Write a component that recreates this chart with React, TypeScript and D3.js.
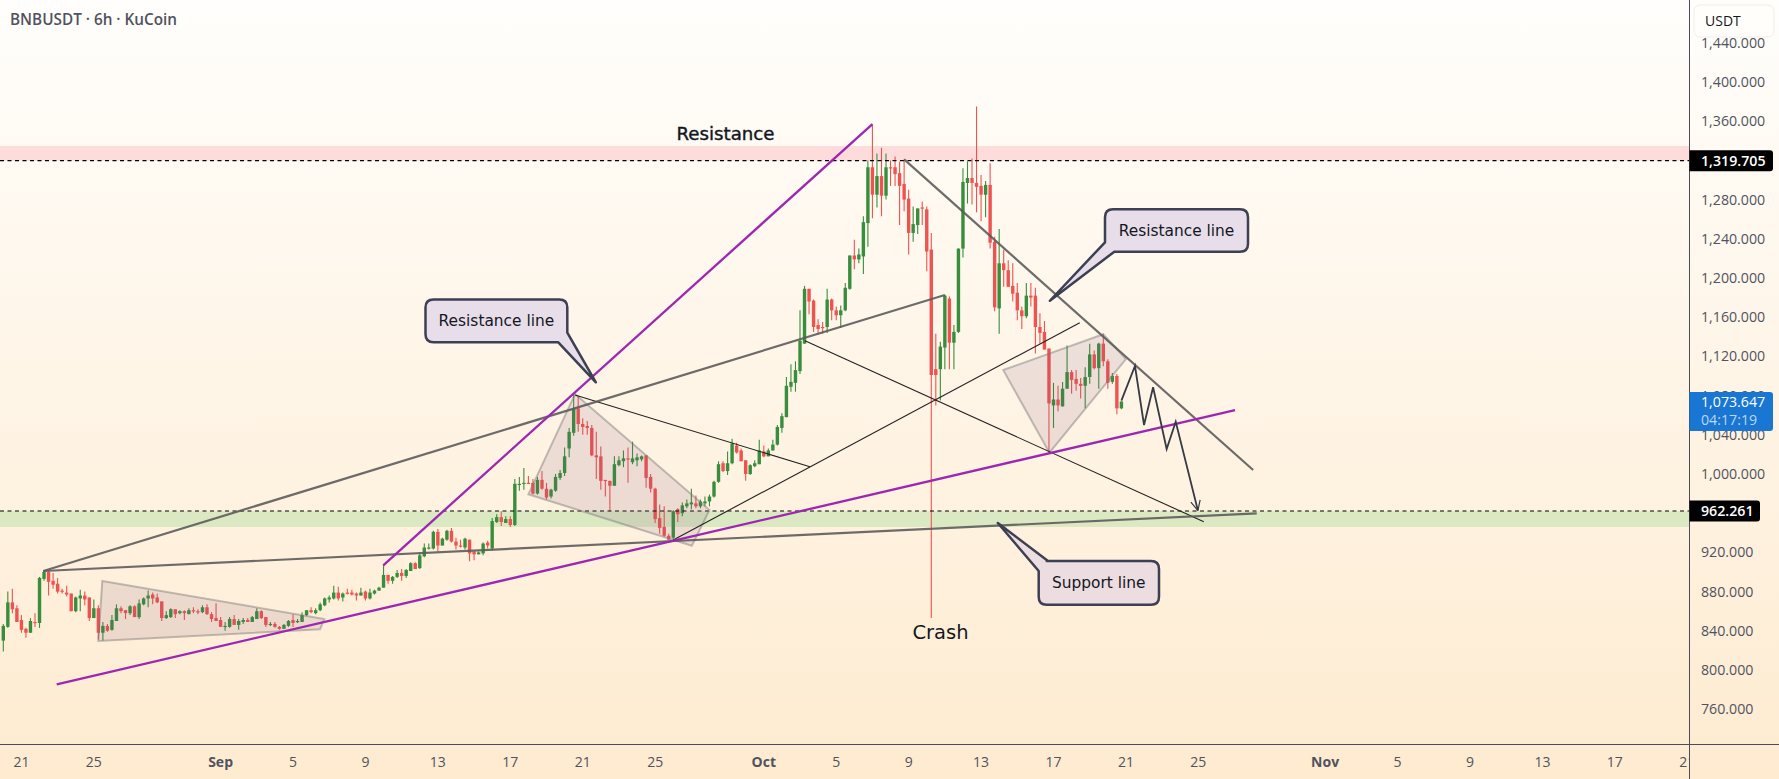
import React from "react";
import * as d3 from "d3";

type Row = [number, number, number, number];
type Pt = [number, number];

// [open, high, low, close], 6h bars from 20 Aug
const candlesAug: Row[] = [
[830,847,819,845],[844,880,843,869],[869,883,858,862],[863,866,849,849],[851,856,838,841],[842,843,833,838],[838,853,838,850],[849,858,844,848],
[848,895,843,894],[893,901,891,900],[900,901,876,890],[891,899,883,887],[888,894,878,880],[881,883,878,880],[879,886,875,877],[878,878,860,860],
[860,875,859,874],[873,882,860,876],[876,880,866,872],[874,874,850,853],[853,872,853,863],[863,866,831,838],[838,849,830,845],[845,847,839,840],
[841,856,840,851],[850,867,850,863],[863,865,858,860],[861,861,852,858],[858,866,856,865],[865,866,854,854],[854,872,852,868],[867,874,866,873],
[873,881,864,876],[877,879,867,873],[874,878,868,869],[870,870,850,853],[853,860,852,856],[854,863,853,862],[862,862,853,857],[858,861,857,860],
[860,861,851,858],[857,863,857,861],[861,864,858,860],[860,862,857,859],[859,866,858,864],[864,867,856,857],[857,859,849,852],[853,868,850,850],
];
const candlesSep: Row[] = [
[851,854,844,844],[844,849,840,845],[844,854,843,852],[852,856,846,846],[846,852,841,850],[849,853,847,851],[851,853,849,849],[849,855,849,854],
[852,863,852,860],[860,861,852,853],[854,854,844,846],[846,849,845,847],[847,849,843,844],[844,845,841,842],[842,847,842,846],[845,851,844,850],
[851,857,844,848],[849,852,848,850],[849,859,849,856],[856,861,855,861],[861,864,858,859],[858,863,857,861],[861,869,860,867],[866,874,865,873],
[872,876,869,874],[873,886,872,879],[879,885,871,873],[874,879,870,878],[879,883,877,878],[879,882,876,877],[878,879,871,876],[876,884,876,879],
[880,881,871,873],[873,883,872,879],[878,882,877,881],[881,885,881,884],[884,907,884,897],[897,897,888,891],[891,896,888,895],[895,902,894,899],
[899,903,891,896],[896,903,894,902],[901,910,901,909],[909,910,903,903],[904,920,903,917],[916,929,915,925],[924,929,923,925],[924,942,923,941],
[941,944,921,927],[927,935,927,934],[933,943,932,942],[942,945,930,931],[931,935,923,927],[927,933,925,926],[925,935,923,934],[933,933,911,919],
[921,921,912,918],[918,921,918,920],[919,930,917,929],[930,932,924,927],[924,955,922,952],[951,959,950,956],[956,962,947,951],[950,957,950,954],
[954,957,946,948],[948,995,947,990],[989,997,983,990],[990,1006,984,991],[991,998,990,990],[991,995,979,980],[980,997,979,994],[994,1003,984,985],
[985,991,974,976],[977,985,975,984],[983,1000,982,997],[996,1004,994,1001],[1001,1027,998,1018],[1026,1047,1017,1043],[1042,1081,1039,1067],[1067,1080,1043,1051],
[1051,1057,1040,1048],[1049,1054,1040,1047],[1047,1050,1018,1019],[1019,1043,995,1017],[1018,1028,984,993],[994,994,977,993],[993,993,962,988],[988,1018,988,1010],
[1009,1018,1008,1014],[1013,1024,1007,1016],[1016,1027,991,1015],[1012,1033,1010,1016],[1014,1021,1008,1017],[1015,1019,1013,1018],[1019,1019,986,996],[997,1000,981,985],
[985,986,950,954],[955,969,939,945],[946,967,936,937],[937,939,933,933],[935,963,933,962],[964,965,951,959],[960,971,957,968],[967,974,965,970],
[969,985,964,971],[970,978,965,967],[967,974,965,972],[970,977,967,972],[972,979,967,977],[977,993,976,992],[992,1013,991,1010],[1011,1013,1002,1003],
[1003,1023,999,1011],[1011,1036,1010,1031],[1029,1032,1021,1022],[1024,1026,1013,1013],[1014,1014,993,1000],[1000,1010,999,1009],[1008,1014,1007,1011],[1010,1035,1010,1024],
];
const candlesOct: Row[] = [
[1023,1029,1017,1018],[1018,1026,1018,1024],[1024,1035,1024,1030],[1030,1050,1029,1048],[1047,1062,1042,1059],[1058,1099,1058,1090],[1089,1112,1084,1094],[1093,1115,1084,1106],
[1105,1167,1102,1136],[1133,1192,1133,1189],[1189,1189,1163,1176],[1177,1178,1145,1150],[1152,1158,1142,1148],[1150,1155,1143,1149],[1150,1189,1144,1178],[1178,1179,1157,1167],
[1167,1171,1157,1162],[1162,1172,1149,1167],[1167,1195,1166,1190],[1189,1223,1188,1223],[1223,1239,1209,1219],[1219,1230,1215,1224],[1222,1263,1204,1257],[1256,1320,1232,1313],
[1313,1357,1261,1285],[1285,1327,1272,1304],[1304,1333,1263,1284],[1284,1327,1280,1313],[1313,1320,1294,1312],[1313,1324,1294,1306],[1307,1319,1254,1294],[1296,1321,1268,1280],
[1281,1290,1224,1246],[1246,1273,1237,1255],[1254,1271,1245,1271],[1272,1278,1254,1271],[1270,1273,1207,1227],[1229,1246,853,1101],[1107,1143,1070,1101],[1107,1135,1075,1130],
[1129,1183,1107,1182],[1179,1181,1107,1134],[1134,1152,1107,1145],[1145,1230,1144,1230],[1230,1312,1221,1298],[1297,1319,1276,1302],[1302,1322,1275,1297],[1297,1375,1267,1293],
[1294,1305,1258,1285],[1285,1299,1262,1295],[1295,1317,1230,1236],[1237,1242,1166,1170],[1169,1250,1143,1215],[1215,1229,1191,1208],[1208,1218,1191,1191],[1192,1215,1176,1184],
[1185,1195,1157,1167],[1167,1171,1148,1161],[1161,1195,1159,1182],[1182,1195,1171,1180],[1182,1190,1123,1150],[1150,1164,1133,1144],[1145,1156,1127,1127],[1128,1128,1022,1072],
[1070,1093,1047,1076],[1076,1090,1064,1070],[1069,1094,1069,1087],[1087,1131,1087,1104],[1104,1106,1082,1096],[1097,1106,1085,1092],[1092,1098,1077,1090],[1090,1109,1067,1099],
[1099,1133,1092,1122],[1122,1126,1107,1108],[1108,1134,1087,1133],[1133,1143,1110,1115],[1115,1117,1087,1093],[1094,1103,1092,1100],[1100,1102,1061,1067],[1067,1074,1066,1074],
];

const priceTicks = [760,800,840,880,920,1000,1040,1080,1120,1160,1200,1240,1280,1360,1400,1440];
// [label, days after 20 Aug, month start?]
const timeTicks: [string, number, boolean][] = [
  ["21",1,false],["25",5,false],["Sep",12,true],["5",16,false],["9",20,false],["13",24,false],["17",28,false],["21",32,false],["25",36,false],
  ["Oct",42,true],["5",46,false],["9",50,false],["13",54,false],["17",58,false],["21",62,false],["25",66,false],
  ["Nov",73,true],["5",77,false],["9",81,false],["13",85,false],["17",89,false],["21",93,false],
];

const resistanceLevel = 1319.705;
const supportLevel = 962.261;
const lastPrice = 1073.647;
const resistanceZone: Pt = [1334.7, 1319.7];
const supportZone: Pt = [962, 946];

// Drawings as [bar index, price]
const greyRising: Pt[] = [[8.84,901],[208,1182.7]];
const greySupport: Pt[] = [[8.84,901],[276.9,959.9]];
const greyFalling: Pt[] = [[199,1321.1],[276.1,1004.1]];
const purpleSteep: Pt[] = [[83.94,906.8],[192,1357.1]];
const purpleBase: Pt[] = [[11.8,785.4],[272.1,1065.3]];
const thinA: Pt[] = [[126.3,1080.6],[178.2,1007.4]];
const thinB: Pt[] = [[148,932.7],[237.8,1154.4]];
const thinC: Pt[] = [[177.1,1136],[265.2,951.3]];
const triangleOne: Pt[] = [[21.87,890.8],[70.9,852],[69.96,841.5],[20.99,829.6]];
const triangleTwo: Pt[] = [[126.3,1081.6],[156,963.3],[152.1,926.8],[116,979.3]];
const triangleThree: Pt[] = [[220.9,1106.1],[243,1142.6],[248,1117.3],[231.1,1021.7]];
const forecast: Pt[] = [[247,1074.8],[250,1110.2],[252,1050],[254,1088.5],[257,1025.5],[259,1053.4],[263.9,962.7]];
const tipLeft: Pt = [130.9,1093.6];
const tipRight: Pt = [231.2,1176.8];
const tipSupport: Pt = [219.7,950];

const W = 1779, H = 779, AX = 1689.5, AY = 744;
const x = d3.scaleLinear().domain([0, 247]).range([3.3, 1121.4]);
const y = d3.scaleLinear().domain([1400, 760]).range([82, 709.2]);
const candles = [...candlesAug, ...candlesSep, ...candlesOct];
const line = d3.line<Pt>().x(d => x(d[0])).y(d => y(d[1]));
const poly = (p: Pt[]) => line(p) + "Z";

const UP = "#388e3c", DOWN = "#ef5350", TXT = "#50535e", AXC = "#4a4c5c";
const FONT = "'Open Sans', sans-serif";

function rr(l: number, t: number, r: number, b: number, k: number, notch: string) {
  return `M${l + k},${t}H${r - k}Q${r},${t} ${r},${t + k}` + notch;
}

function Callout({ box, label, fill, path, tx }: { box: number[]; label: string; fill: string; path: string; tx: number }) {
  return (
    <g>
      <path d={path} fill={fill} stroke="#3d3f52" strokeWidth={2.5} strokeLinejoin="round" />
      <text x={tx} y={(box[1] + box[3]) / 2 + 5.5} textAnchor="middle" fontFamily="'DejaVu Sans', sans-serif" fontSize={15.4} fill="#131722">{label}</text>
    </g>
  );
}

export default function App() {
  const k = 8;
  // left callout
  const a = [425.5, 299.5, 567.3, 342.3];
  const aTip = [x(tipLeft[0]), y(tipLeft[1])];
  const aPath = rr(a[0], a[1], a[2], a[3], k,
    `V332.7L${aTip[0]},${aTip[1]}L558.3,${a[3]}H${a[0] + k}Q${a[0]},${a[3]} ${a[0]},${a[3] - k}V${a[1] + k}Q${a[0]},${a[1]} ${a[0] + k},${a[1]}Z`);
  // right callout
  const b = [1105, 209.3, 1248, 251.7];
  const bTip = [x(tipRight[0]), y(tipRight[1])];
  const bPath = rr(b[0], b[1], b[2], b[3], k,
    `V${b[3] - k}Q${b[2]},${b[3]} ${b[2] - k},${b[3]}H1114.3L${bTip[0]},${bTip[1]}L${b[0]},242.3V${b[1] + k}Q${b[0]},${b[1]} ${b[0] + k},${b[1]}Z`);
  // support callout
  const c = [1038.7, 561, 1159, 604.7];
  const cTip = [x(tipSupport[0]), y(tipSupport[1])];
  const cPath = rr(c[0], c[1], c[2], c[3], k,
    `V${c[3] - k}Q${c[2]},${c[3]} ${c[2] - k},${c[3]}H${c[0] + k}Q${c[0]},${c[3]} ${c[0]},${c[3] - k}V571L${cTip[0]},${cTip[1]}L1048,${c[1]}Z`);

  const last = forecast[forecast.length - 1], prev = forecast[forecast.length - 2];
  const ex = x(last[0]), ey = y(last[1]);
  const ang = Math.atan2(ey - y(prev[1]), ex - x(prev[0]));
  const head = [ang - 0.45, ang + 0.45].map(t => `M${ex},${ey}L${ex - 11 * Math.cos(t)},${ey - 11 * Math.sin(t)}`).join("");

  return (
    <svg width={W} height={H} viewBox={`0 0 ${W} ${H}`} style={{ position: "absolute", left: 0, top: 0, display: "block" }}>
      <defs>
        <linearGradient id="bg" x1="0" y1="0" x2="0" y2="1">
          <stop offset="0" stopColor="#fffefc" />
          <stop offset="1" stopColor="#feebd0" />
        </linearGradient>
        <clipPath id="timeClip"><rect x={0} y={AY} width={AX} height={H - AY} /></clipPath>
      </defs>
      <rect width={W} height={H} fill="url(#bg)" />

      <rect x={0} width={AX} y={y(resistanceZone[0])} height={y(resistanceZone[1]) - y(resistanceZone[0])} fill="#ffdcdc" />
      <rect x={0} width={AX} y={y(supportZone[0])} height={y(supportZone[1]) - y(supportZone[0])} fill="#dae9c2" />

      {candles.map((d, i) => {
        const [o, h, l, c2] = d;
        const col = c2 >= o ? UP : DOWN;
        const cx = x(i);
        const top = y(Math.max(o, c2));
        const bot = y(Math.min(o, c2));
        return (
          <g key={i}>
            <line x1={cx} x2={cx} y1={y(h)} y2={y(l)} stroke={col} strokeWidth={1.1} />
            <rect x={cx - 1.7} width={3.4} y={top} height={Math.max(1.2, bot - top)} fill={col} />
          </g>
        );
      })}

      {[resistanceLevel, supportLevel].map(v => (
        <line key={v} x1={0} x2={AX} y1={y(v)} y2={y(v)} stroke="#000" strokeWidth={1.2} strokeDasharray="4 3.5" />
      ))}

      {[triangleOne, triangleTwo, triangleThree].map((t, i) => (
        <path key={i} d={poly(t)} fill="rgba(125,85,125,0.14)" stroke="rgba(120,120,120,0.45)" strokeWidth={2} />
      ))}

      {[thinA, thinB, thinC].map((p, i) => <path key={i} d={line(p)!} fill="none" stroke="#222" strokeWidth={1.1} />)}
      {[greyRising, greySupport, greyFalling].map((p, i) => <path key={i} d={line(p)!} fill="none" stroke="#5c5c5c" strokeOpacity={0.9} strokeWidth={2.2} />)}
      {[purpleSteep, purpleBase].map((p, i) => <path key={i} d={line(p)!} fill="none" stroke="#9c27b0" strokeWidth={2.3} />)}

      <path d={line(forecast)!} fill="none" stroke="#363a45" strokeWidth={1.8} />
      <path d={head} fill="none" stroke="#363a45" strokeWidth={1.2} />

      <Callout box={a} label="Resistance line" fill="#e8deea" path={aPath} tx={496.4} />
      <Callout box={b} label="Resistance line" fill="#e8deea" path={bPath} tx={1176.5} />
      <Callout box={c} label="Support line" fill="#ecdde0" path={cPath} tx={1098.8} />

      <text x={725.5} y={139.5} textAnchor="middle" fontFamily="'DejaVu Sans', sans-serif" fontWeight={500} fontSize={18.2} fill="#131722" stroke="#131722" strokeWidth={0.4}>Resistance</text>
      <text x={940.5} y={639} textAnchor="middle" fontFamily="'DejaVu Sans', sans-serif" fontSize={19.5} fill="#131722">Crash</text>

      <text x={10} y={25} fontFamily={FONT} fontWeight={600} fontSize={15.3} fill={TXT}>BNBUSDT · 6h · KuCoin</text>

      <line x1={AX} x2={AX} y1={0} y2={H} stroke={AXC} strokeWidth={1} />
      <line x1={0} x2={W} y1={AY + 0.5} y2={AY + 0.5} stroke={AXC} strokeWidth={1} />

      <g clipPath="url(#timeClip)">
        {timeTicks.map(([t, d, m], i) => (
          <text key={i} x={x(d * 4)} y={767} textAnchor="middle" fontFamily={FONT} fontSize={14} fontWeight={m ? 700 : 400} fill={TXT}>{t}</text>
        ))}
      </g>

      {priceTicks.map(p => (
        <text key={p} x={1701} y={y(p) + 5} fontFamily={FONT} fontSize={14.2} fill={TXT}>{d3.format(",.3f")(p)}</text>
      ))}

      <rect x={1694} y={5} width={80} height={32} rx={6} fill="#fffefb" stroke="#f1eeea" />
      <text x={1705} y={26} fontFamily={FONT} fontSize={14} fill="#131722">USDT</text>

      <path d={`M${AX},${y(resistanceLevel) - 10.5}H1770q3,0 3,3v15q0,3 -3,3H${AX}Z`} fill="#000" />
      <text x={1701} y={y(resistanceLevel) + 5} fontFamily={FONT} fontSize={14.2} fontWeight={600} fill="#fff">{d3.format(",.3f")(resistanceLevel)}</text>
      <path d={`M${AX},${y(supportLevel) - 10.5}H1757q3,0 3,3v15q0,3 -3,3H${AX}Z`} fill="#000" />
      <text x={1701} y={y(supportLevel) + 5} fontFamily={FONT} fontSize={14.2} fontWeight={600} fill="#fff">{d3.format(",.3f")(supportLevel)}</text>
      <path d={`M${AX},392H1770q3,0 3,3v33q0,3 -3,3H${AX}Z`} fill="#1976d2" />
      <text x={1701} y={y(lastPrice) + 5} fontFamily={FONT} fontSize={14.2} fontWeight={500} fill="#fff">{d3.format(",.3f")(lastPrice)}</text>
      <text x={1701} y={425} fontFamily={FONT} fontSize={14.2} fill="#bcd6f2">04:17:19</text>
    </svg>
  );
}
